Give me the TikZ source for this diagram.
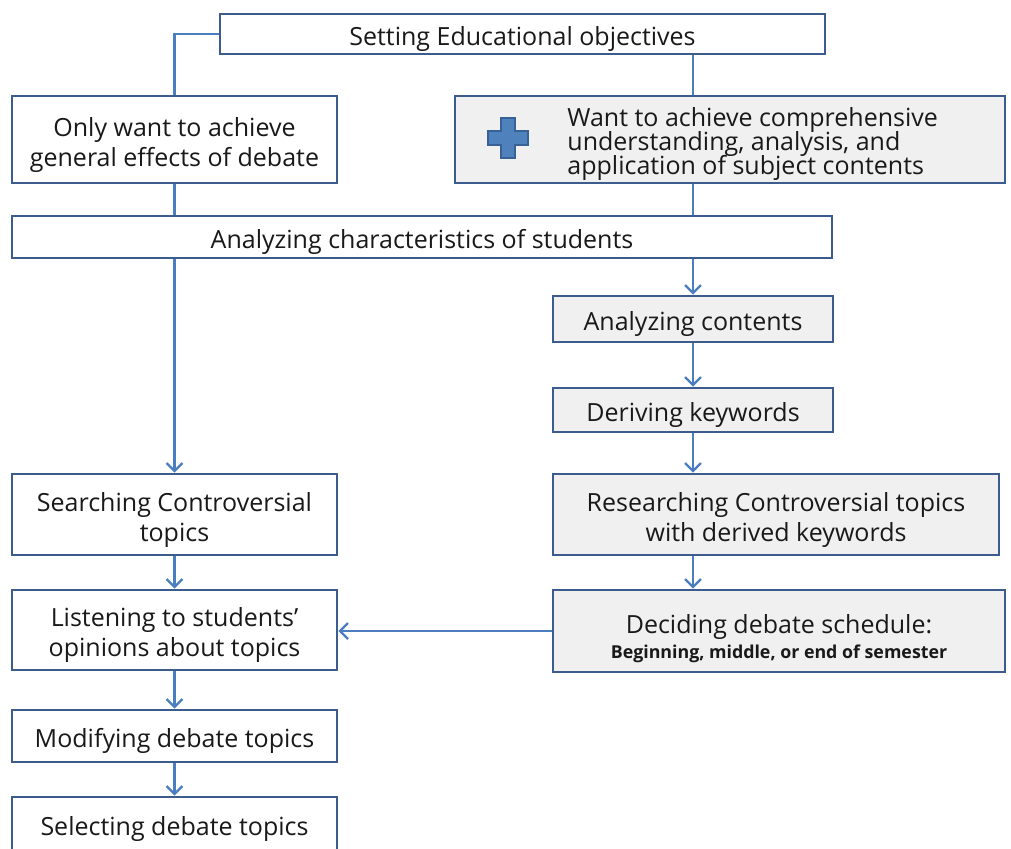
\documentclass[tikz,border=0pt]{standalone}
\usepackage{fontspec}
\setmainfont{Open Sans}
\usetikzlibrary{arrows.meta}
\definecolor{bord}{RGB}{60,92,142}
\definecolor{conn}{RGB}{74,126,192}
\definecolor{grayfill}{RGB}{240,240,240}
\definecolor{plusfill}{RGB}{79,129,189}
\definecolor{plusdraw}{RGB}{56,98,150}
\definecolor{txt}{RGB}{25,25,25}
\newcommand{\lift}[1]{\rule{0pt}{#1}}
\tikzset{
  box/.style={draw=bord, line width=1.3pt, fill=white, inner sep=0pt, align=center, text=txt, font=\fontsize{12.5}{15}\selectfont},
  gbox/.style={box, fill=grayfill},
  wh/.style 2 args={minimum width=#1*0.5pt, minimum height=#2*0.5pt},
  link/.style={draw=conn, line width=1.25pt},
  arr/.style={link, -{Straight Barb[length=4pt,width=8pt,line width=1.2pt]}},
}
\begin{document}
\begin{tikzpicture}[x=0.5pt,y=-0.5pt]
\useasboundingbox (0,0) rectangle (1011,848);
\clip (0,0) rectangle (1011,848);
\node[box, wh={605}{40}] (set) at (522.5,34) {\lift{14pt}Setting Educational objectives};
\node[box, wh={325}{87}] (only) at (174.5,139.5) {\lift{14.5pt}Only want to achieve\\general effects of debate};
\node[gbox, wh={550}{87}] (want) at (730,139.5) {};
\node[anchor=west, align=left, inner sep=0pt, text=txt, font=\fontsize{12.5}{12.3}\selectfont] (wanttxt) at (567,144) {Want to achieve comprehensive\\[-1.5pt]understanding, analysis, and\\[-1.5pt]application of subject contents};
\node[box, wh={820}{42}] (achar) at (422,237) {\lift{14pt}Analyzing characteristics of students};
\node[gbox, wh={280}{46}] (acont) at (693,319) {\lift{14pt}Analyzing contents};
\node[gbox, wh={280}{44}] (dkey) at (693,410) {\lift{14pt}Deriving keywords};
\node[box, wh={325}{81}] (search) at (174.5,514.5) {\lift{14.5pt}Searching Controversial\\topics};
\node[gbox, wh={446}{81}] (research) at (776,514.5) {\lift{14.5pt}Researching Controversial topics\\with derived keywords};
\node[box, wh={325}{80}] (listen) at (174.5,630) {\lift{14.5pt}Listening to students'\\opinions about topics};
\node[gbox, wh={452}{82}] (decide) at (779,631) {\lift{17pt}Deciding debate schedule:\\[-2.5pt]{\fontsize{8.9}{10}\selectfont\bfseries Beginning, middle, or end of semester}};
\node[box, wh={325}{52}] (modify) at (174.5,736) {\lift{14pt}Modifying debate topics};
\node[box, wh={325}{54}] (select) at (174.5,824) {\lift{14pt}Selecting debate topics};
% plus icon
\draw[fill=plusfill, draw=plusdraw, line width=0.8pt]
  (501,118) -- (515,118) -- (515,131) -- (528,131) -- (528,145) -- (515,145) -- (515,158)
  -- (501,158) -- (501,145) -- (488,145) -- (488,131) -- (501,131) -- cycle;
% connectors
\draw[link] (set.west) -| (only.north);
\draw[link] (set.south -| acont.north) -- (want.north -| acont.north);
\draw[link] (only.south) -- (achar.north -| only.south);
\draw[link] (want.south -| acont.north) -- (achar.north -| acont.north);
\draw[arr] (achar.south -| only.south) -- (search.north);
\draw[arr] (achar.south -| acont.north) -- (acont.north);
\draw[arr] (acont.south) -- (dkey.north);
\draw[arr] (dkey.south) -- (research.north -| dkey.south);
\draw[arr] (research.south -| dkey.south) -- (decide.north -| dkey.south);
\draw[arr] (search.south) -- (listen.north);
\draw[arr] (decide.west) -- (decide.west -| listen.east);
\draw[arr] (listen.south) -- (modify.north);
\draw[arr] (modify.south) -- (select.north);
\end{tikzpicture}
\end{document}
